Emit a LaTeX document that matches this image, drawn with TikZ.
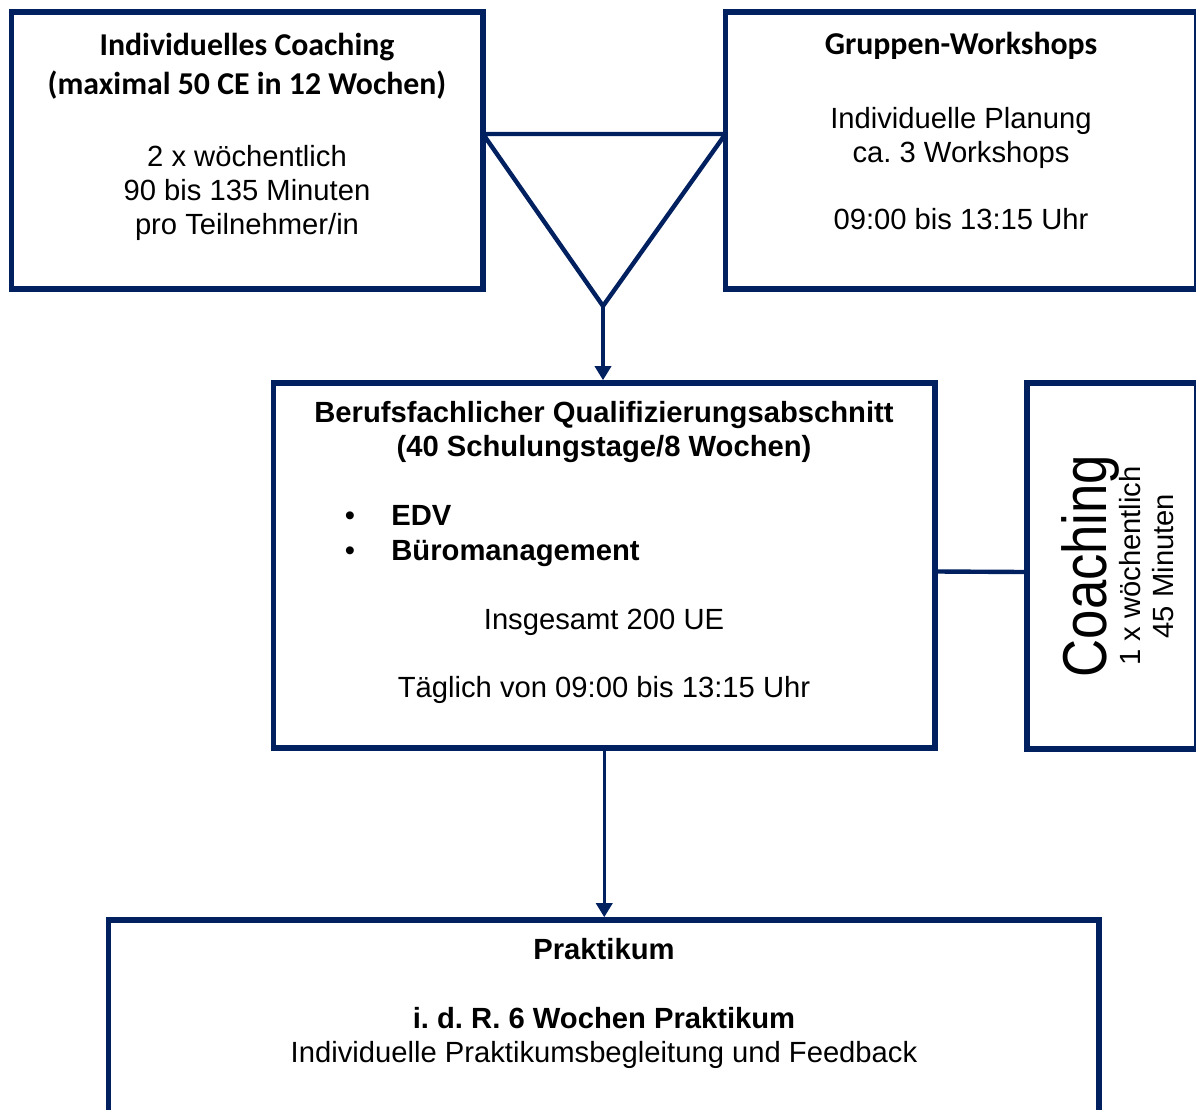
\documentclass[tikz,border=0pt]{standalone}
\usepackage{fontspec}
\setmainfont{Liberation Sans}
\newfontfamily\carlito{Carlito}
\newcommand{\bodyfont}{\fontsize{14.6pt}{17pt}\selectfont}
\definecolor{navy}{RGB}{0,32,96}
\tikzset{box/.style = {draw=navy, line width=2.8pt, inner sep=0pt}}
\tikzset{link/.style = {draw=navy, line width=2.2pt, line join=round}}
\tikzset{arr/.style = {draw=navy, line width=1.7pt, -{Triangle[width=8pt,length=7pt]}}}
\tikzset{txt/.style = {anchor=base, inner sep=0pt, align=center, font=\bodyfont}}
\tikzset{bold/.style = {txt, font=\bodyfont\bfseries}}
\tikzset{head/.style = {txt, font=\carlito\bfseries\fontsize{15.9pt}{19.5pt}\selectfont}}
\usetikzlibrary{arrows.meta}
\frenchspacing

\begin{document}
\begin{tikzpicture}[x=0.5pt, y=-0.5pt]
      \useasboundingbox (0,0) rectangle (1196,1110);
      % boxes
      \node [box, minimum width=235.75pt, minimum height=138.5pt] (coach) at (247.25,150.5) {};
      \node [box, minimum width=235.75pt, minimum height=138.5pt] (work) at (961.25,150.5) {};
      \node [box, minimum width=330.75pt, minimum height=182.5pt] (quali) at (604.25,565.5) {};
      \node [box, minimum width=85pt, minimum height=183pt] (cbox) at (1112,566) {};
      \node [box, minimum width=495.25pt, minimum height=102.5pt] (prak) at (603.75,1022.5) {};
      % funnel
      \coordinate (tl) at (483,134);
      \coordinate (tr) at (725.5,134);
      \coordinate (apex) at (603,306);
      \draw [link] (tl) -- (tr) -- (apex) -- cycle;
      \draw [arr] (apex) -- (apex |- quali.north);
      \draw [arr] (quali.south) -- (quali.south |- prak.north);
      \draw [link] ([yshift=-3pt]quali.east) -- ([yshift=-3pt]cbox.west);
      % texts (base = last line)
      \node [head] (coachhead) at (247,94) {Individuelles Coaching\\(maximal 50 CE in 12 Wochen)};
      \node [txt] (coachbody) at (247,234) {2 x wöchentlich\\90 bis 135 Minuten\\pro Teilnehmer/in};
      \node [head] (workhead) at (961,54) {Gruppen-Workshops};
      \node [txt] (workbody) at (961,162) {Individuelle Planung\\ca. 3 Workshops};
      \node [txt] (worktime) at (961,229) {09:00 bis 13:15 Uhr};
      \node [bold] (qualihead) at (604,456) {Berufsfachlicher Qualifizierungsabschnitt\\(40 Schulungstage/8 Wochen)};
      \node [txt] (dota) at (350,525) {\textbullet};
      \node [txt] (dotb) at (350,560) {\textbullet};
      \node [bold, anchor=base west] (edv) at (391,525) {EDV};
      \node [bold, anchor=base west] (buero) at (391,560) {Büromanagement};
      \node [txt] (ue) at (604,629) {Insgesamt 200 UE};
      \node [txt] (daily) at (604,697) {Täglich von 09:00 bis 13:15 Uhr};
      \node [txt, rotate=90, font=\fontsize{31pt}{36pt}\selectfont] (cbig) at (1106,566) {\scalebox{0.85}[1]{Coaching}};
      \node [txt, rotate=90] (cweek) at (1140,566) {1 x wöchentlich};
      \node [txt, rotate=90] (cmin) at (1173,566) {45 Minuten};
      \node [bold] (prakhead) at (604,959) {Praktikum};
      \node [bold] (prakweeks) at (604,1028) {i. d. R. 6 Wochen Praktikum};
      \node [txt] (prakbody) at (604,1062) {Individuelle Praktikumsbegleitung und Feedback};
    \end{tikzpicture}
\end{document}
